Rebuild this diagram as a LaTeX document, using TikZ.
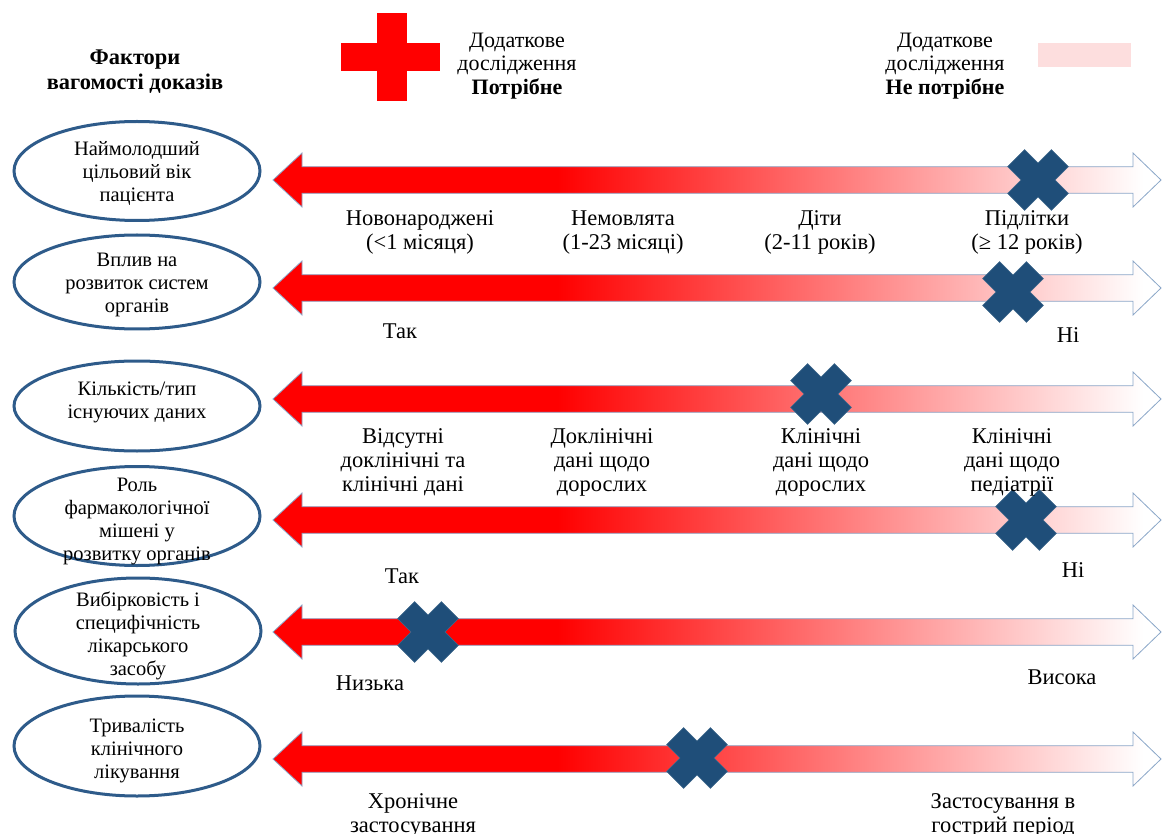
\documentclass[tikz,border=0pt]{standalone}
\usepackage{fontspec}
\setmainfont{Liberation Serif}
\usetikzlibrary{shapes.geometric}

\definecolor{ellblue}{HTML}{2E5B8A}
\definecolor{barline}{HTML}{8AA6C8}
\definecolor{xblue}{HTML}{1F4E79}
\definecolor{palepink}{HTML}{FDDEDE}

\pgfdeclarehorizontalshading{redfade}{100bp}{color(0bp)=(red); color(41bp)=(red); color(74bp)=(white); color(100bp)=(white)}

\begin{document}
\begin{tikzpicture}[
    x=1pt, y=-1pt,
    every node/.style={font=\fontsize{22.5}{24}\selectfont, inner sep=0pt, align=center},
    head/.style={font=\fontsize{22.4}{25}\selectfont\bfseries},
    key/.style={font=\fontsize{22}{23.5}\selectfont},
    ftext/.style={font=\fontsize{20.5}{23}\selectfont},
    factor/.style={draw=ellblue, line width=3pt, ellipse, minimum width=246, minimum height=#1},
    scalebar/.style={shade, shading=redfade, draw=barline, line width=0.8pt},
    xmark/.style={fill=xblue, draw=xblue!85!white, line width=0.6pt}
]
\useasboundingbox (0,0) rectangle (1162,834);

% Legend
\node[head] (title) at (135,72) {Фактори\\вагомості доказів};
\fill[red] (341,43) rectangle (440,71);
\fill[red] (377,13) rectangle (407,101);
\node[key] (need) at (517,66) {Додаткове\\дослідження\\\textbf{Потрібне}};
\node[key] (noneed) at (945,66) {Додаткове\\дослідження\\\textbf{Не потрібне}};
\fill[palepink] (1038,43) rectangle (1131,67);

% Scale bars
\foreach \r in {180,288,399,520,632,759}
  \path[scalebar] (273,\r) -- (302,\r-27) -- (302,\r-13.3) -- (1133,\r-13.3)
     -- (1133,\r-27) -- (1161,\r) -- (1133,\r+27) -- (1133,\r+13.3)
     -- (302,\r+13.3) -- (302,\r+27) -- cycle;

% Crosses
\foreach \cx/\cy in {1038/180, 1013/292, 821/394, 1026/520, 428/632, 697/758}
  \draw[xmark, shift={(\cx,\cy)}] (17,0) -- (30.4,13.4) -- (13.4,30.4) -- (0,17)
     -- (-13.4,30.4) -- (-30.4,13.4) -- (-17,0) -- (-30.4,-13.4) -- (-13.4,-30.4)
     -- (0,-17) -- (13.4,-30.4) -- (30.4,-13.4) -- cycle;

% Factors
\node[factor=99] (age) at (137,171) {};
\node[ftext] (agetxt) at (137,173.5) {Наймолодший\\цільовий вік\\пацієнта};
\node[factor=94] (organs) at (137,282) {};
\node[ftext] (organstxt) at (137,284.5) {Вплив на\\розвиток систем\\органів};
\node[factor=90] (data) at (137,406) {};
\node[ftext] (datatxt) at (137,402.5) {Кількість/тип\\існуючих даних};
\node[factor=99] (target) at (137,516) {};
\node[ftext] (targettxt) at (137,521) {Роль\\фармакологічної\\мішені у\\розвитку органів};
\node[factor=106] (select) at (138,631) {};
\node[ftext] (selecttxt) at (138,636) {Вибірковість і\\специфічність\\лікарського\\засобу};
\node[factor=100] (course) at (137,746) {};
\node[ftext] (coursetxt) at (137,750.5) {Тривалість\\клінічного\\лікування};

% Labels, row 1
\node (newborn) at (420,232) {Новонароджені\\(<1 місяця)};
\node (infant) at (623,233) {Немовлята\\(1-23 місяці)};
\node (child) at (820,232) {Діти\\(2-11 років)};
\node (teen) at (1027,232) {Підлітки\\(≥ 12 років)};
% row 2
\node (yes1) at (400,331) {Так};
\node (no1) at (1068,335) {Ні};
% row 3
\node (nodata) at (403,462) {Відсутні\\доклінічні та\\клінічні дані};
\node (preclin) at (602,462) {Доклінічні\\дані щодо\\дорослих};
\node (adult) at (821,462) {Клінічні\\дані щодо\\дорослих};
\node (paed) at (1012,462) {Клінічні\\дані щодо\\педіатрії};
% row 4
\node (yes2) at (402,576) {Так};
\node (no2) at (1073,570) {Ні};
% row 5
\node (low) at (370,683) {Низька};
\node (high) at (1062,677) {Висока};
% row 6
\node (chronic) at (413,815) {Хронічне\\застосування};
\node (acute) at (1003,815) {Застосування в\\гострий період};

\end{tikzpicture}
\end{document}
